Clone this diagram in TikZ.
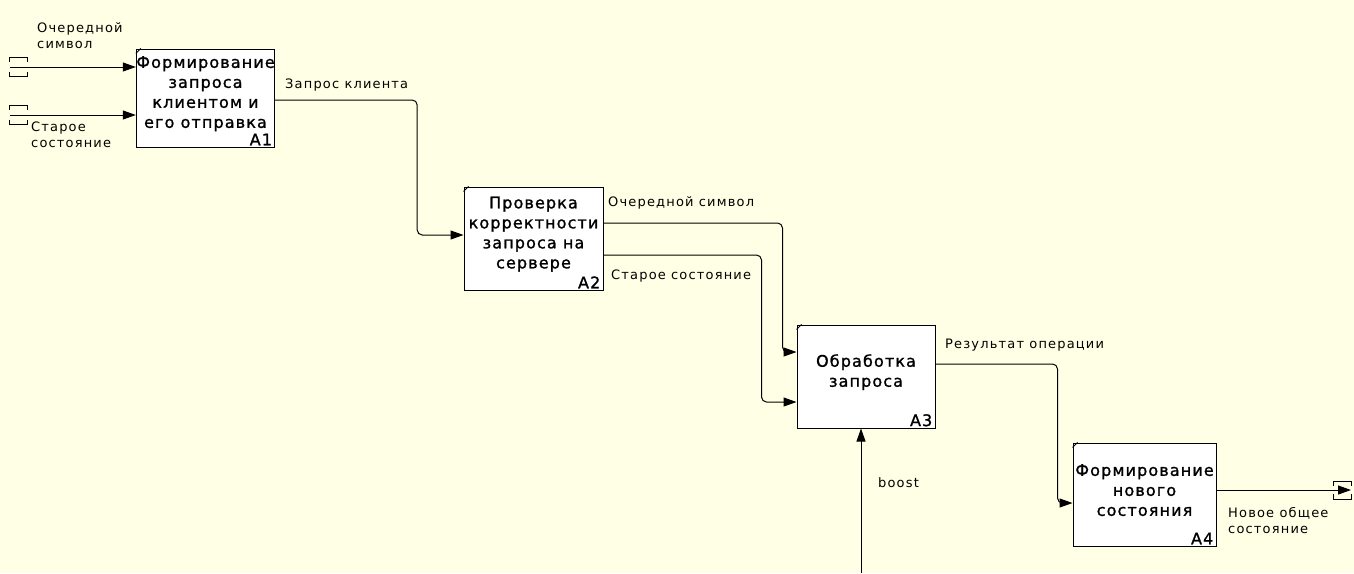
\documentclass[tikz,border=0pt]{standalone}
\usepackage{fontspec}
\newfontfamily\boxfont{DejaVu Sans}[LetterSpace=7.0,FakeBold=1.2]
\newfontfamily\arrfont{DejaVu Sans}[LetterSpace=9.0]
\usetikzlibrary{arrows.meta,calc}
\definecolor{idefbg}{RGB}{255,255,230}

\tikzset{
  func/.style={draw, fill=white, line width=1pt, align=center, inner sep=0pt, text depth=12pt,
    font=\boxfont\fontsize{16pt}{20pt}\selectfont},
  num/.style={anchor=south east, inner xsep=3pt, inner ysep=2pt, font=\boxfont\fontsize{16pt}{20pt}\selectfont},
  lbl/.style={anchor=base west, align=left, inner sep=0pt, font=\arrfont\fontsize{13pt}{16pt}\selectfont},
  flow/.style={line width=1pt, rounded corners=5pt, -{Triangle[length=13pt,width=9pt]}},
  tun/.style={line width=1pt}
}

\begin{document}
\begin{tikzpicture}[x=1pt,y=-1pt]
  \fill[idefbg] (0,0) rectangle (1354,573);
  \node[func, minimum width=137pt, minimum height=98pt]  (A1) at (205.5,98)   {Формирование\\запроса\\клиентом и\\его отправка};
  \node[func, minimum width=139pt, minimum height=103pt] (A2) at (533.5,238.5) {Проверка\\корректности\\запроса на\\сервере};
  \node[func, minimum width=138pt, minimum height=103pt] (A3) at (866,376.5)   {Обработка\\запроса};
  \node[func, minimum width=143pt, minimum height=103pt, text depth=9pt] (A4) at (1144.5,494.5) {Формирование\\нового\\состояния};
  \foreach \f/\n in {A1/1,A2/2,A3/3,A4/4} {
    \node[num] at (\f.south east) {A\n};
    \draw[line width=0.8pt] (\f.north west) ++(0,5) -- ++(5,-5);
  }
  \coordinate (t1) at (10,67);
  \coordinate (t2) at (10,115);
  \coordinate (tout) at (1351,490);
  \coordinate (mech) at (861,573);
  \foreach \t in {t1,t2}
    \draw[tun] (\t) ++(-1,-5) -- ++(0,-5) -- ++(18,0) -- ++(0,5)
               (\t) ++(-1,5) -- ++(0,4) -- ++(18,0) -- ++(0,-4);
  \draw[tun] (tout) ++(-18,-4) -- ++(0,-5) -- ++(18,0) -- ++(0,5)
             (tout) ++(-18,4) -- ++(0,5) -- ++(18,0) -- ++(0,-5);
  \draw[flow] (t1) -- ([yshift=31pt]A1.west);
  \draw[flow] (t2) -- ([yshift=-17pt]A1.west);
  \draw[flow] ([yshift=-2pt]A1.east) -- ++(142,0) |- ([yshift=3.5pt]A2.west);
  \draw[flow] ([yshift=15.5pt]A2.east) -- ++(179,0) |- ([yshift=24.5pt]A3.west);
  \draw[flow] ([yshift=-16.5pt]A2.east) -- ++(158,0) |- ([yshift=-25.5pt]A3.west);
  \draw[flow] ([yshift=12.5pt]A3.east) -- ++(122,0) |- ([yshift=-8.5pt]A4.west);
  \draw[flow] ([yshift=4.5pt]A4.east) -- (tout);
  \draw[flow] (mech) -- (mech |- A3.south);
  \node[lbl] (l1) at (37,48)   {Очередной\\символ};
  \node[lbl] (l2) at (31,147)  {Старое\\состояние};
  \node[lbl] (l3) at (285,88)  {Запрос клиента};
  \node[lbl] (l4) at (608,206) {Очередной символ};
  \node[lbl] (l5) at (611,279) {Старое состояние};
  \node[lbl] (l6) at (945,348) {Результат операции};
  \node[lbl] (l7) at (1228,533) {Новое общее\\состояние};
  \node[lbl] (l8) at (878,487) {boost};
\end{tikzpicture}
\end{document}
